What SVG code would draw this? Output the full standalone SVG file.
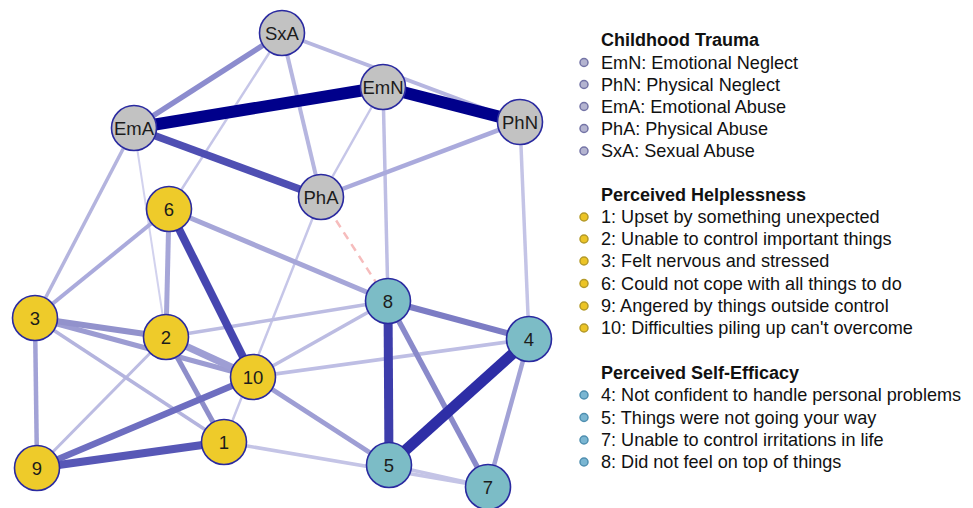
<svg xmlns="http://www.w3.org/2000/svg" width="973" height="508" viewBox="0 0 973 508">
<style>
.e{fill:none;stroke-linecap:butt}
.n{stroke:#2a2aa0;stroke-width:1.6}
.g{fill:#c2c2c2}
.y{fill:#eecb2a}
.b{fill:#7cbcc6}
.nt{font-family:"Liberation Sans",Arial,sans-serif;font-size:18.5px;fill:#1c1c1c;text-anchor:middle}
.lh{font-family:"Liberation Sans",Arial,sans-serif;font-size:18px;font-weight:bold;fill:#111}
.lt{font-family:"Liberation Sans",Arial,sans-serif;font-size:18.1px;fill:#111}
.bg{fill:#b4b4d0;stroke:#7474a6;stroke-width:1.5}
.by{fill:#ecc426;stroke:#b49a2a;stroke-width:1.5}
.bb{fill:#7ab6d2;stroke:#4f8fb0;stroke-width:1.5}
</style>
<rect width="973" height="508" fill="#fff"/>
<g id="connectors" class="e">
<line x1="134" y1="128" x2="166" y2="337" stroke="#d2d2ee" stroke-width="2"/>
<line x1="282" y1="33" x2="169" y2="209" stroke="#c6c6e8" stroke-width="2.5"/>
<line x1="383" y1="87" x2="321" y2="197" stroke="#c6c6e8" stroke-width="2.5"/>
<line x1="321" y1="197" x2="224" y2="442" stroke="#c6c6e8" stroke-width="2.5"/>
<line x1="224" y1="442" x2="488" y2="487" stroke="#c4c4e6" stroke-width="3.5"/>
<line x1="389" y1="465" x2="488" y2="487" stroke="#c4c4e6" stroke-width="3.5"/>
<line x1="383" y1="87" x2="388" y2="301" stroke="#bebee4" stroke-width="3.5"/>
<line x1="520" y1="122" x2="529" y2="339" stroke="#c4c4e6" stroke-width="3.5"/>
<line x1="253" y1="377" x2="529" y2="339" stroke="#bebee4" stroke-width="3.5"/>
<line x1="253" y1="377" x2="388" y2="301" stroke="#bcbce2" stroke-width="3.5"/>
<line x1="166" y1="337" x2="388" y2="301" stroke="#bcbce2" stroke-width="3.5"/>
<line x1="166" y1="337" x2="37" y2="468" stroke="#bcbce2" stroke-width="3"/>
<line x1="134" y1="128" x2="35" y2="318" stroke="#b4b4de" stroke-width="3.5"/>
<line x1="35" y1="318" x2="224" y2="442" stroke="#b4b4de" stroke-width="3.5"/>
<line x1="282" y1="33" x2="520" y2="122" stroke="#b6b6e0" stroke-width="4"/>
<line x1="282" y1="33" x2="321" y2="197" stroke="#b6b6e0" stroke-width="4"/>
<line x1="520" y1="122" x2="321" y2="197" stroke="#aaaadc" stroke-width="4.5"/>
<line x1="169" y1="209" x2="35" y2="318" stroke="#aaaadc" stroke-width="4"/>
<line x1="169" y1="209" x2="166" y2="337" stroke="#a6a6d8" stroke-width="5"/>
<line x1="169" y1="209" x2="388" y2="301" stroke="#a6a6d8" stroke-width="5"/>
<line x1="35" y1="318" x2="37" y2="468" stroke="#a2a2d6" stroke-width="4.5"/>
<line x1="529" y1="339" x2="488" y2="487" stroke="#a2a2d6" stroke-width="4.5"/>
<line x1="253" y1="377" x2="389" y2="465" stroke="#9e9ed4" stroke-width="5"/>
<line x1="35" y1="318" x2="253" y2="377" stroke="#9c9cd2" stroke-width="5"/>
<line x1="166" y1="337" x2="253" y2="377" stroke="#9e9ed4" stroke-width="7"/>
<line x1="35" y1="318" x2="166" y2="337" stroke="#9292cc" stroke-width="6"/>
<line x1="166" y1="337" x2="224" y2="442" stroke="#8e8eca" stroke-width="5"/>
<line x1="134" y1="128" x2="282" y2="33" stroke="#8c8cce" stroke-width="5.5"/>
<line x1="388" y1="301" x2="488" y2="487" stroke="#8a8aca" stroke-width="5.5"/>
<line x1="388" y1="301" x2="529" y2="339" stroke="#7c7cc4" stroke-width="6"/>
<line x1="37" y1="468" x2="253" y2="377" stroke="#6e6ec0" stroke-width="6.5"/>
<line x1="37" y1="468" x2="224" y2="442" stroke="#5757b6" stroke-width="8"/>
<line x1="134" y1="128" x2="321" y2="197" stroke="#4f4fb3" stroke-width="7.5"/>
<line x1="169" y1="209" x2="253" y2="377" stroke="#4646b0" stroke-width="8"/>
<line x1="388" y1="301" x2="389" y2="465" stroke="#3d3dab" stroke-width="9"/>
<line x1="529" y1="339" x2="389" y2="465" stroke="#2e2ea6" stroke-width="11"/>
<line x1="134" y1="128" x2="383" y2="87" stroke="#00008b" stroke-width="12"/>
<line x1="383" y1="87" x2="520" y2="122" stroke="#00008b" stroke-width="12"/>
<line x1="321" y1="197" x2="388" y2="301" stroke="#f6bcbc" stroke-width="2.5" stroke-dasharray="8 6"/>
</g>
<g id="node-SxA"><circle class="n g" cx="282" cy="33" r="22.5"/><text class="nt" x="282" y="39.5">SxA</text></g>
<g id="node-EmN"><circle class="n g" cx="383" cy="87" r="22.5"/><text class="nt" x="383" y="93.5">EmN</text></g>
<g id="node-PhN"><circle class="n g" cx="520" cy="122" r="22.5"/><text class="nt" x="520" y="128.5">PhN</text></g>
<g id="node-EmA"><circle class="n g" cx="134" cy="128" r="22.5"/><text class="nt" x="134" y="134.5">EmA</text></g>
<g id="node-PhA"><circle class="n g" cx="321" cy="197" r="22.5"/><text class="nt" x="321" y="203.5">PhA</text></g>
<g id="node-6"><circle class="n y" cx="169" cy="209" r="22.5"/><text class="nt" x="169" y="215.5">6</text></g>
<g id="node-3"><circle class="n y" cx="35" cy="318" r="22.5"/><text class="nt" x="35" y="324.5">3</text></g>
<g id="node-2"><circle class="n y" cx="166" cy="337" r="22.5"/><text class="nt" x="166" y="343.5">2</text></g>
<g id="node-10"><circle class="n y" cx="253" cy="377" r="22.5"/><text class="nt" x="253" y="383.5">10</text></g>
<g id="node-1"><circle class="n y" cx="224" cy="442" r="22.5"/><text class="nt" x="224" y="448.5">1</text></g>
<g id="node-9"><circle class="n y" cx="37" cy="468" r="22.5"/><text class="nt" x="37" y="474.5">9</text></g>
<g id="node-8"><circle class="n b" cx="388" cy="301" r="22.5"/><text class="nt" x="388" y="307.5">8</text></g>
<g id="node-4"><circle class="n b" cx="529" cy="339" r="22.5"/><text class="nt" x="529" y="345.5">4</text></g>
<g id="node-5"><circle class="n b" cx="389" cy="465" r="22.5"/><text class="nt" x="389" y="471.5">5</text></g>
<g id="node-7"><circle class="n b" cx="488" cy="487" r="22.5"/><text class="nt" x="488" y="493.5">7</text></g>
<g id="legend">
<text class="lh" x="601" y="46">Childhood Trauma</text>
<circle class="bg" cx="584" cy="62.5" r="4"/><text class="lt" x="601" y="68.5">EmN: Emotional Neglect</text>
<circle class="bg" cx="584" cy="84.5" r="4"/><text class="lt" x="601" y="90.5">PhN: Physical Neglect</text>
<circle class="bg" cx="584" cy="106.5" r="4"/><text class="lt" x="601" y="112.5">EmA: Emotional Abuse</text>
<circle class="bg" cx="584" cy="128.5" r="4"/><text class="lt" x="601" y="134.5">PhA: Physical Abuse</text>
<circle class="bg" cx="584" cy="151" r="4"/><text class="lt" x="601" y="157">SxA: Sexual Abuse</text>
<text class="lh" x="601" y="200.5">Perceived Helplessness</text>
<circle class="by" cx="584" cy="217" r="4"/><text class="lt" x="601" y="223">1: Upset by something unexpected</text>
<circle class="by" cx="584" cy="239" r="4"/><text class="lt" x="601" y="245">2: Unable to control important things</text>
<circle class="by" cx="584" cy="261" r="4"/><text class="lt" x="601" y="267">3: Felt nervous and stressed</text>
<circle class="by" cx="584" cy="283.5" r="4"/><text class="lt" x="601" y="289.5">6: Could not cope with all things to do</text>
<circle class="by" cx="584" cy="306" r="4"/><text class="lt" x="601" y="312">9: Angered by things outside control</text>
<circle class="by" cx="584" cy="328" r="4"/><text class="lt" x="601" y="334">10: Difficulties piling up can't overcome</text>
<text class="lh" x="601" y="378.5">Perceived Self-Efficacy</text>
<circle class="bb" cx="584" cy="395" r="4"/><text class="lt" x="601" y="401">4: Not confident to handle personal problems</text>
<circle class="bb" cx="584" cy="417.5" r="4"/><text class="lt" x="601" y="423.5">5: Things were not going your way</text>
<circle class="bb" cx="584" cy="440" r="4"/><text class="lt" x="601" y="446">7: Unable to control irritations in life</text>
<circle class="bb" cx="584" cy="462" r="4"/><text class="lt" x="601" y="468">8: Did not feel on top of things</text>
</g>
</svg>
